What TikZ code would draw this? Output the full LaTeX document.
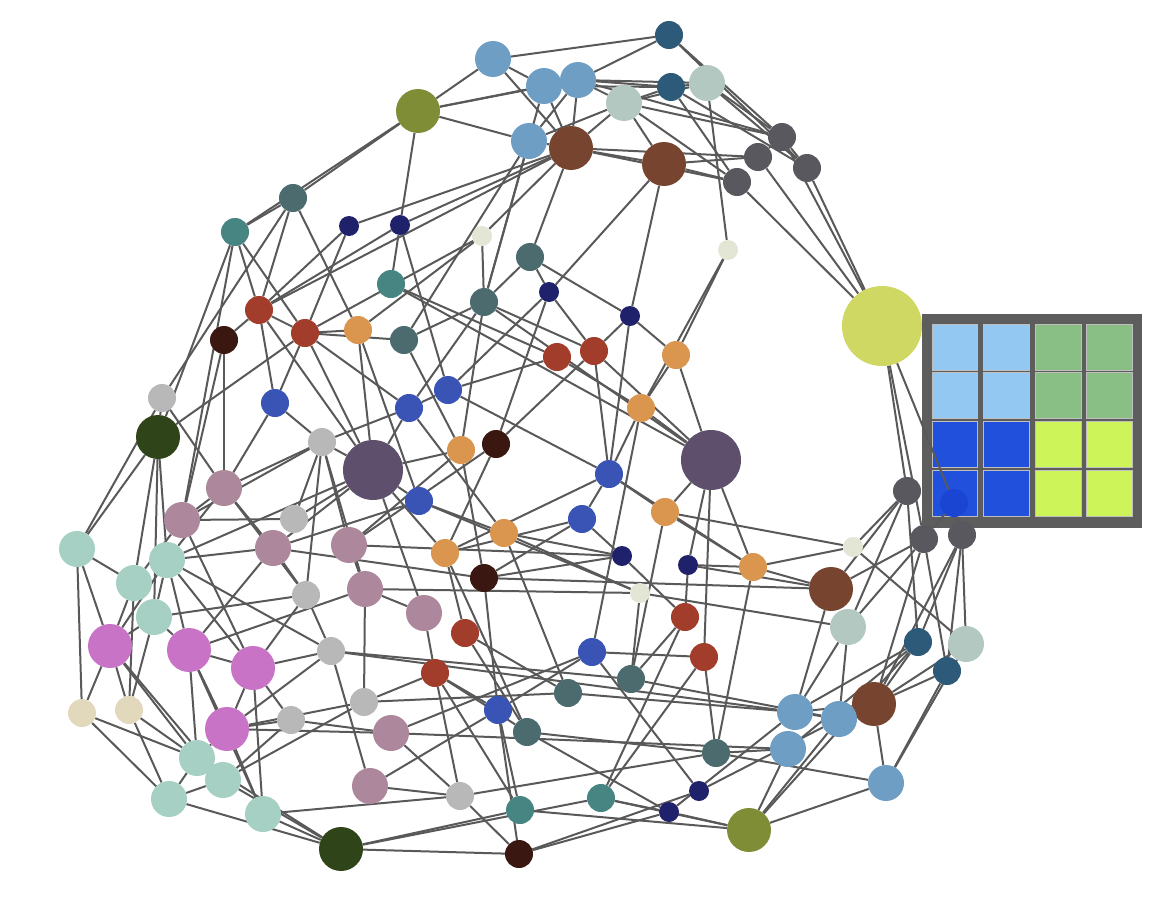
\documentclass[tikz,border=0pt]{standalone}
\usetikzlibrary{backgrounds}
\definecolor{cDB}{HTML}{2E5A7A}
\definecolor{cLB}{HTML}{6E9EC4}
\definecolor{cSG}{HTML}{B3C8C1}
\definecolor{cOL}{HTML}{7F8D37}
\definecolor{cBR}{HTML}{77452F}
\definecolor{cGR}{HTML}{58585E}
\definecolor{cSL}{HTML}{4B6B6E}
\definecolor{cTE}{HTML}{468582}
\definecolor{cNV}{HTML}{1F216B}
\definecolor{cPA}{HTML}{E3E5D5}
\definecolor{cYE}{HTML}{CFD862}
\definecolor{cRD}{HTML}{A13D2A}
\definecolor{cDK}{HTML}{3B1711}
\definecolor{cOR}{HTML}{DA954F}
\definecolor{cLG}{HTML}{B8B8B8}
\definecolor{cBL}{HTML}{3954B5}
\definecolor{cDG}{HTML}{30441A}
\definecolor{cPU}{HTML}{5E506C}
\definecolor{cMA}{HTML}{AD889C}
\definecolor{cMI}{HTML}{A6D0C3}
\definecolor{cMG}{HTML}{C873C6}
\definecolor{cBE}{HTML}{E2D9BD}
\definecolor{cEdge}{HTML}{595959}
\definecolor{lgBG}{HTML}{5D5D5D}
\definecolor{lgA}{HTML}{92C8F2}
\definecolor{lgB}{HTML}{89BF84}
\definecolor{lgC}{HTML}{2050DC}
\definecolor{lgD}{HTML}{CDF55A}
\definecolor{cHid}{HTML}{1A45D2}
\pgfdeclarelayer{legendlayer}
\pgfdeclarelayer{edgelayer}
\pgfsetlayers{legendlayer,edgelayer,main}
\tikzset{
  nd/.style={circle,inner sep=0pt,draw=none},
  szA/.style={minimum size=20pt},
  szB/.style={minimum size=28pt},
  szC/.style={minimum size=36pt},
  szD/.style={minimum size=44pt},
  szE/.style={minimum size=60pt},
  szF/.style={minimum size=80pt},
  edge/.style={draw=cEdge,line width=2pt},
  lgcell/.style={draw=white!75!black,line width=0.8pt}
}
\begin{document}
\begin{tikzpicture}[x=1pt,y=-1pt]
\useasboundingbox (0,0) rectangle (1170,902);
% nodes
\node[nd,szB,fill=cDB] (n1) at (669,35) {};
\node[nd,szC,fill=cLB] (n2) at (493,59) {};
\node[nd,szC,fill=cLB] (n3) at (544,86) {};
\node[nd,szC,fill=cLB] (n4) at (578,80) {};
\node[nd,szB,fill=cDB] (n5) at (671,87) {};
\node[nd,szC,fill=cSG] (n6) at (707,83) {};
\node[nd,szC,fill=cSG] (n7) at (624,103) {};
\node[nd,szD,fill=cOL] (n8) at (418,111) {};
\node[nd,szC,fill=cLB] (n9) at (529,141) {};
\node[nd,szD,fill=cBR] (n10) at (571,148) {};
\node[nd,szD,fill=cBR] (n11) at (664,164) {};
\node[nd,szB,fill=cGR] (n12) at (782,137) {};
\node[nd,szB,fill=cGR] (n13) at (758,157) {};
\node[nd,szB,fill=cGR] (n14) at (737,182) {};
\node[nd,szB,fill=cGR] (n15) at (807,168) {};
\node[nd,szB,fill=cSL] (n16) at (293,198) {};
\node[nd,szB,fill=cTE] (n17) at (235,232) {};
\node[nd,szA,fill=cNV] (n18) at (349,226) {};
\node[nd,szA,fill=cNV] (n19) at (400,225) {};
\node[nd,szA,fill=cPA] (n20) at (482,236) {};
\node[nd,szB,fill=cSL] (n21) at (530,257) {};
\node[nd,szA,fill=cPA] (n22) at (728,250) {};
\node[nd,szB,fill=cTE] (n23) at (391,284) {};
\node[nd,szB,fill=cSL] (n24) at (484,302) {};
\node[nd,szA,fill=cNV] (n25) at (549,292) {};
\node[nd,szA,fill=cNV] (n26) at (630,316) {};
\node[nd,szF,fill=cYE] (n27) at (882,326) {};
\node[nd,szB,fill=cRD] (n28) at (259,310) {};
\node[nd,szB,fill=cDK] (n29) at (224,340) {};
\node[nd,szB,fill=cRD] (n30) at (305,333) {};
\node[nd,szB,fill=cOR] (n31) at (358,330) {};
\node[nd,szB,fill=cSL] (n32) at (404,340) {};
\node[nd,szB,fill=cRD] (n33) at (557,357) {};
\node[nd,szB,fill=cRD] (n34) at (594,351) {};
\node[nd,szB,fill=cOR] (n35) at (676,355) {};
\node[nd,szB,fill=cLG] (n36) at (162,398) {};
\node[nd,szB,fill=cBL] (n37) at (275,403) {};
\node[nd,szB,fill=cBL] (n38) at (409,408) {};
\node[nd,szB,fill=cBL] (n39) at (448,390) {};
\node[nd,szB,fill=cOR] (n40) at (641,408) {};
\node[nd,szD,fill=cDG] (n41) at (158,437) {};
\node[nd,szB,fill=cLG] (n42) at (322,442) {};
\node[nd,szE,fill=cPU] (n43) at (373,470) {};
\node[nd,szB,fill=cOR] (n44) at (461,450) {};
\node[nd,szB,fill=cDK] (n45) at (496,444) {};
\node[nd,szE,fill=cPU] (n46) at (711,460) {};
\node[nd,szB,fill=cBL] (n47) at (609,474) {};
\node[nd,szC,fill=cMA] (n48) at (224,488) {};
\node[nd,szC,fill=cMA] (n49) at (182,520) {};
\node[nd,szB,fill=cLG] (n50) at (294,519) {};
\node[nd,szB,fill=cBL] (n51) at (419,501) {};
\node[nd,szB,fill=cOR] (n52) at (504,533) {};
\node[nd,szB,fill=cBL] (n53) at (582,519) {};
\node[nd,szB,fill=cOR] (n54) at (665,512) {};
\node[nd,szC,fill=cMA] (n55) at (273,548) {};
\node[nd,szC,fill=cMA] (n56) at (349,545) {};
\node[nd,szC,fill=cMI] (n57) at (77,549) {};
\node[nd,szC,fill=cMI] (n58) at (167,560) {};
\node[nd,szC,fill=cMI] (n59) at (134,583) {};
\node[nd,szB,fill=cOR] (n60) at (445,553) {};
\node[nd,szA,fill=cNV] (n61) at (622,556) {};
\node[nd,szA,fill=cNV] (n62) at (688,565) {};
\node[nd,szB,fill=cOR] (n63) at (753,567) {};
\node[nd,szA,fill=cPA] (n64) at (853,547) {};
\node[nd,szD,fill=cBR] (n65) at (831,589) {};
\node[nd,szB,fill=cDK] (n66) at (484,578) {};
\node[nd,szB,fill=cLG] (n67) at (306,595) {};
\node[nd,szC,fill=cMA] (n68) at (365,589) {};
\node[nd,szC,fill=cMI] (n69) at (154,617) {};
\node[nd,szC,fill=cMA] (n70) at (424,613) {};
\node[nd,szA,fill=cPA] (n71) at (640,593) {};
\node[nd,szB,fill=cRD] (n72) at (685,617) {};
\node[nd,szC,fill=cSG] (n73) at (848,627) {};
\node[nd,szD,fill=cMG] (n74) at (110,646) {};
\node[nd,szD,fill=cMG] (n75) at (189,650) {};
\node[nd,szD,fill=cMG] (n76) at (253,668) {};
\node[nd,szB,fill=cLG] (n77) at (331,651) {};
\node[nd,szB,fill=cRD] (n78) at (465,633) {};
\node[nd,szB,fill=cBL] (n79) at (592,652) {};
\node[nd,szB,fill=cRD] (n80) at (704,657) {};
\node[nd,szB,fill=cDB] (n81) at (918,642) {};
\node[nd,szC,fill=cSG] (n82) at (966,644) {};
\node[nd,szB,fill=cGR] (n83) at (907,491) {};
\node[nd,szB,fill=cGR] (n84) at (924,539) {};
\node[nd,szB,fill=cGR] (n85) at (962,535) {};
\node[nd,szB,fill=cHid] (n86) at (954,503) {};
\node[nd,szB,fill=cDB] (n87) at (947,671) {};
\node[nd,szD,fill=cBR] (n88) at (874,704) {};
\node[nd,szC,fill=cLB] (n89) at (795,712) {};
\node[nd,szC,fill=cLB] (n90) at (839,719) {};
\node[nd,szC,fill=cLB] (n91) at (788,749) {};
\node[nd,szB,fill=cSL] (n92) at (716,753) {};
\node[nd,szC,fill=cLB] (n93) at (886,783) {};
\node[nd,szA,fill=cNV] (n94) at (699,791) {};
\node[nd,szA,fill=cNV] (n95) at (669,812) {};
\node[nd,szD,fill=cOL] (n96) at (749,830) {};
\node[nd,szB,fill=cTE] (n97) at (601,798) {};
\node[nd,szB,fill=cTE] (n98) at (520,810) {};
\node[nd,szB,fill=cDK] (n99) at (519,854) {};
\node[nd,szB,fill=cLG] (n100) at (460,796) {};
\node[nd,szC,fill=cMA] (n101) at (370,786) {};
\node[nd,szD,fill=cDG] (n102) at (341,849) {};
\node[nd,szC,fill=cMI] (n103) at (263,814) {};
\node[nd,szC,fill=cMI] (n104) at (223,780) {};
\node[nd,szC,fill=cMI] (n105) at (197,758) {};
\node[nd,szC,fill=cMI] (n106) at (169,799) {};
\node[nd,szD,fill=cMG] (n107) at (227,729) {};
\node[nd,szB,fill=cLG] (n108) at (291,720) {};
\node[nd,szB,fill=cLG] (n109) at (364,702) {};
\node[nd,szC,fill=cMA] (n110) at (391,733) {};
\node[nd,szB,fill=cBE] (n111) at (82,713) {};
\node[nd,szB,fill=cBE] (n112) at (129,710) {};
\node[nd,szB,fill=cRD] (n113) at (435,673) {};
\node[nd,szB,fill=cBL] (n114) at (498,710) {};
\node[nd,szB,fill=cSL] (n115) at (527,732) {};
\node[nd,szB,fill=cSL] (n116) at (568,693) {};
\node[nd,szB,fill=cSL] (n117) at (631,679) {};
% legend
\begin{pgfonlayer}{legendlayer}
\fill[lgBG] (921.5,314) rectangle (1142,528);
\foreach \cx in {932.3,983.7}{
  \foreach \cy in {324.3,372.5}{\filldraw[lgcell,fill=lgA] (\cx,\cy) rectangle ++(45.5,46);}
  \foreach \cy in {421.3,470}{\filldraw[lgcell,fill=lgC] (\cx,\cy) rectangle ++(45.5,46);}
}
\foreach \cx in {1035.7,1086.7}{
  \foreach \cy in {324.3,372.5}{\filldraw[lgcell,fill=lgB] (\cx,\cy) rectangle ++(45.5,46);}
  \foreach \cy in {421.3,470}{\filldraw[lgcell,fill=lgD] (\cx,\cy) rectangle ++(45.5,46);}
}
\end{pgfonlayer}
% edges
\begin{pgfonlayer}{edgelayer}
\foreach \a/\b in {n1/n2,n1/n4,n1/n12,n1/n15,
n2/n3,n2/n8,n2/n10,
n3/n4,n3/n8,n3/n10,n3/n24,n3/n5,
n4/n5,n4/n6,n4/n7,n4/n10,n4/n9,n4/n12,
n5/n6,n5/n7,n5/n14,n5/n15,
n6/n12,n6/n15,n6/n22,n6/n7,
n7/n10,n7/n11,n7/n12,n7/n9,n7/n14,
n8/n9,n8/n16,n8/n17,n8/n19,n8/n4,
n9/n10,n9/n24,n9/n32,
n10/n11,n10/n13,n10/n14,n10/n21,n10/n20,n10/n18,n10/n19,n10/n28,
n11/n13,n11/n14,n11/n25,n11/n26,
n12/n13,n12/n15,n12/n27,n13/n27,n14/n27,n15/n27,
n16/n17,n16/n36,n16/n28,n16/n31,
n17/n41,n17/n28,n17/n30,
n18/n28,n18/n30,n19/n28,n19/n23,
n20/n24,n20/n30,
n21/n24,n21/n25,n21/n26,
n22/n35,n22/n40,
n23/n33,n23/n46,
n24/n46,n24/n34,
n25/n34,n25/n45,n25/n39,
n26/n34,n26/n35,n26/n47,
n28/n29,n28/n37,n28/n43,n28/n30,
n29/n48,n29/n49,
n30/n31,n30/n32,n30/n37,n30/n41,n30/n43,n30/n38,
n31/n43,n31/n51,n31/n20,
n32/n44,n32/n24,
n33/n39,n33/n40,
n34/n45,n34/n47,n34/n46,
n35/n46,n35/n40,
n36/n48,n36/n57,n36/n41,
n37/n42,n37/n48,
n38/n39,n38/n52,n38/n24,n38/n43,
n39/n47,n39/n19,
n40/n47,n40/n79,n40/n46,
n41/n57,n41/n59,n41/n69,n41/n58,
n42/n43,n42/n49,n42/n50,n42/n56,n42/n67,n42/n68,n42/n38,n42/n48}
  \draw[edge] (\a) -- (\b);
\foreach \a/\b in {n43/n44,n43/n50,n43/n51,n43/n55,n43/n60,n43/n70,n43/n58,
n44/n24,n44/n66,
n45/n60,n45/n56,
n46/n54,n46/n62,n46/n63,n46/n80,
n47/n53,n47/n54,n47/n60,n47/n63,
n48/n49,n48/n55,n48/n67,n48/n58,
n49/n50,n49/n76,n49/n59,n49/n17,
n51/n52,n51/n55,n51/n71,
n52/n116,n52/n61,
n53/n60,n53/n61,n53/n66,
n54/n64,n54/n117,n54/n63,
n55/n66,n55/n67,n55/n75,n55/n58,
n56/n44,n56/n68,n56/n61,
n57/n59,n57/n74,n57/n111,
n58/n69,n58/n74,n58/n75,n58/n77,n58/n76,
n59/n74,n59/n112,
n60/n78,n60/n115,
n61/n66,n61/n72,
n62/n63,n62/n72,n62/n65,
n63/n64,n63/n65,n63/n92,
n64/n83,n64/n82,
n65/n83,n65/n84,n65/n89,n65/n66,
n66/n114,
n67/n69,n67/n77,n67/n76,
n68/n70,n68/n75,n68/n109,n68/n71,
n69/n74,n69/n75,n69/n112,
n70/n113,
n71/n117,n71/n73,n71/n52,
n72/n117,n72/n97,
n73/n83,n73/n90,n73/n89,
n74/n111,n74/n112,n74/n105,n74/n104,
n75/n76,n75/n105,n75/n107,n75/n103,
n76/n77,n76/n103,n76/n107,n76/n108,
n77/n117,n77/n101,n77/n107,n77/n89,
n78/n116,n78/n115,
n79/n80,n79/n94,n79/n110,n79/n114,
n80/n97,n80/n92}
  \draw[edge] (\a) -- (\b);
\foreach \a/\b in {n81/n83,n81/n85,n81/n88,n81/n89,n81/n91,n81/n96,
n82/n85,n82/n88,n82/n93,
n83/n27,n84/n27,n86/n27,
n84/n86,n84/n87,n84/n88,n84/n73,
n85/n86,n85/n87,n85/n88,
n87/n88,n87/n93,
n88/n93,n88/n89,n88/n90,
n89/n90,n89/n116,n89/n95,
n90/n96,n90/n94,n90/n117,
n91/n92,n91/n96,n91/n110,
n92/n93,n92/n115,n92/n100,
n93/n96,
n94/n99,
n95/n99,n95/n96,n95/n97,n95/n115,
n96/n97,n96/n98,
n97/n102,
n98/n102,n98/n113,n98/n114,
n99/n100,n99/n102,n99/n114,
n100/n101,n100/n103,n100/n110,n100/n113,
n101/n114,
n102/n103,n102/n104,n102/n105,n102/n106,
n103/n107,
n104/n106,n104/n108,n104/n109,
n105/n106,n105/n107,n105/n111,n105/n112,
n106/n111,n106/n112,
n107/n108,n107/n109,n107/n110,
n108/n110,
n109/n113,n109/n116,
n113/n114,n113/n115}
  \draw[edge] (\a) -- (\b);
\end{pgfonlayer}
\end{tikzpicture}
\end{document}
